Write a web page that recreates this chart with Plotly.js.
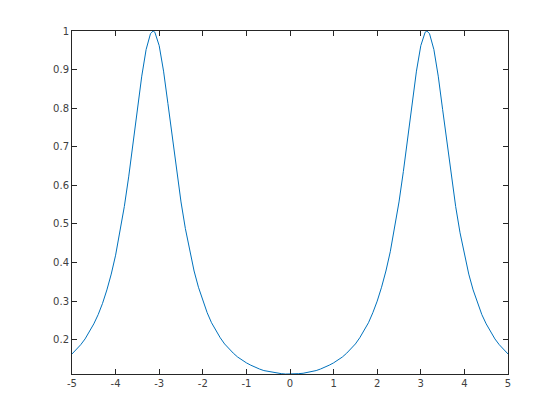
<!DOCTYPE html>
<html>
<head>
<meta charset="utf-8">
<script src="https://cdn.plot.ly/plotly-3.0.1.min.js"></script>
<style>
  body { margin: 0; background: #fff; }
  #plot { width: 560px; height: 420px; }
</style>
</head>
<body>
<div id="plot"></div>
<script>
// values
var xs = [-5.0, -4.9, -4.8, -4.7, -4.6, -4.5, -4.4, -4.3, -4.2, -4.1,
          -4.0, -3.9, -3.8, -3.7, -3.6, -3.5, -3.4, -3.3, -3.2, -3.14, -3.1,
          -3.0, -2.9, -2.8, -2.7, -2.6, -2.5, -2.4, -2.3, -2.2, -2.1,
          -2.0, -1.9, -1.8, -1.7, -1.6, -1.5, -1.4, -1.3, -1.2, -1.1,
          -1.0, -0.9, -0.8, -0.7, -0.6, -0.5, -0.4, -0.3, -0.2, -0.1,
          0.0, 0.1, 0.2, 0.3, 0.4, 0.5, 0.6, 0.7, 0.8, 0.9,
          1.0, 1.1, 1.2, 1.3, 1.4, 1.5, 1.6, 1.7, 1.8, 1.9,
          2.0, 2.1, 2.2, 2.3, 2.4, 2.5, 2.6, 2.7, 2.8, 2.9,
          3.0, 3.1, 3.14, 3.2, 3.3, 3.4, 3.5, 3.6, 3.7, 3.8, 3.9,
          4.0, 4.1, 4.2, 4.3, 4.4, 4.5, 4.6, 4.7, 4.8, 4.9, 5.0];

var ys = [0.163, 0.174, 0.187, 0.202, 0.220, 0.241, 0.265, 0.294, 0.329, 0.370,
          0.419, 0.477, 0.545, 0.622, 0.708, 0.797, 0.883, 0.952, 0.993, 1.000, 0.997,
          0.962, 0.896, 0.812, 0.723, 0.636, 0.557, 0.488, 0.428, 0.378, 0.336,
          0.300, 0.270, 0.244, 0.223, 0.205, 0.189, 0.176, 0.165, 0.155, 0.147,
          0.140, 0.134, 0.128, 0.124, 0.120, 0.118, 0.115, 0.113, 0.112, 0.111,
          0.111, 0.111, 0.112, 0.113, 0.115, 0.118, 0.120, 0.124, 0.128, 0.134,
          0.140, 0.147, 0.155, 0.165, 0.176, 0.189, 0.205, 0.223, 0.244, 0.270,
          0.300, 0.336, 0.378, 0.428, 0.488, 0.557, 0.636, 0.723, 0.812, 0.896,
          0.962, 0.997, 1.000, 0.993, 0.952, 0.883, 0.797, 0.708, 0.622, 0.545, 0.477,
          0.419, 0.370, 0.329, 0.294, 0.265, 0.241, 0.220, 0.202, 0.187, 0.174, 0.163];

var xTicks = [-5, -4, -3, -2, -1, 0, 1, 2, 3, 4, 5];
var xTickLabels = ['-5', '-4', '-3', '-2', '-1', '0', '1', '2', '3', '4', '5'];
var yTicks = [0.2, 0.3, 0.4, 0.5, 0.6, 0.7, 0.8, 0.9, 1];
var yTickLabels = ['0.2', '0.3', '0.4', '0.5', '0.6', '0.7', '0.8', '0.9', '1'];

var trace = {
  x: xs,
  y: ys,
  mode: 'lines',
  type: 'scatter',
  line: { color: '#0072BD', width: 1 },
  hoverinfo: 'none'
};

var axisStyle = {
  showgrid: false,
  zeroline: false,
  showline: true,
  mirror: 'ticks',
  linecolor: '#262626',
  linewidth: 1,
  ticks: 'inside',
  ticklen: 5,
  tickcolor: '#262626',
  tickfont: { family: 'DejaVu Sans, sans-serif', size: 10, color: '#404040' }
};

var layout = {
  width: 560,
  height: 420,
  margin: { l: 72, r: 52, t: 31, b: 46 },
  paper_bgcolor: '#fff',
  plot_bgcolor: '#fff',
  showlegend: false,
  xaxis: Object.assign({}, axisStyle, {
    range: [-5, 5],
    tickmode: 'array',
    tickvals: xTicks,
    ticktext: xTickLabels
  }),
  yaxis: Object.assign({}, axisStyle, {
    range: [0.1111, 1],
    tickmode: 'array',
    tickvals: yTicks,
    ticktext: yTickLabels
  })
};

Plotly.newPlot('plot', [trace], layout, { displayModeBar: false, staticPlot: true });
</script>
</body>
</html>
